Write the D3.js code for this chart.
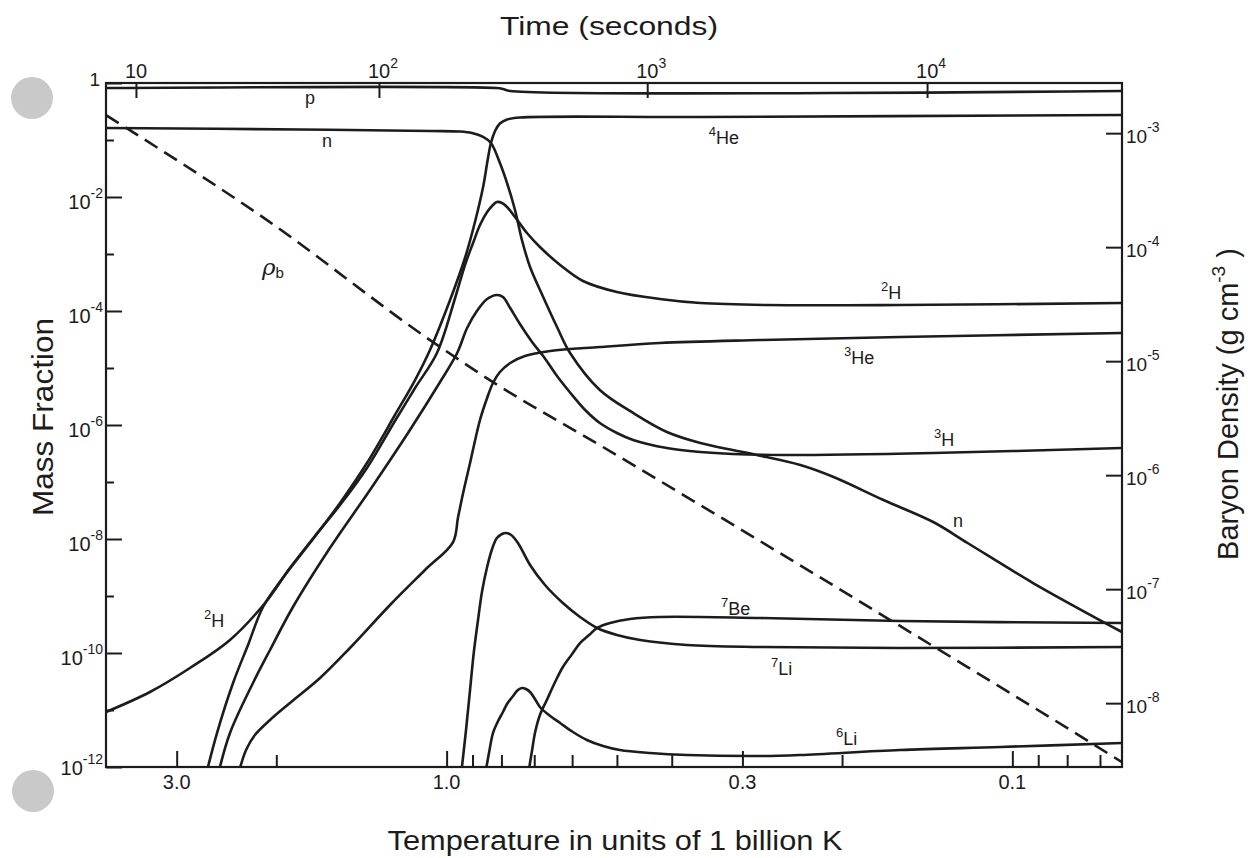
<!DOCTYPE html>
<html><head><meta charset="utf-8">
<script src="https://cdn.jsdelivr.net/npm/d3@7"></script>
<style>
body{margin:0;background:#fff}
svg{display:block}
text{font-family:"Liberation Sans",Arial,Helvetica,sans-serif;fill:#1c1c1c}
</style>
</head><body>
<svg id="chart" width="1248" height="858"></svg>
<script>
// ---------- DATA (temperature in 10^9 K, log10 of mass fraction) ----------
const proton   = [[4.0,-0.088],[0.815,-0.088],[0.795,-0.105],[0.772,-0.140],[0.064,-0.140]];
const neutron  = [[4.0,-0.789],[1.816,-0.816],[1.07,-0.842],[0.947,-0.851],[0.902,-0.877],[0.862,-0.947],[0.835,-1.053],[0.805,-1.404],[0.782,-1.754],[0.757,-2.228],[0.736,-2.754],[0.712,-3.228],[0.675,-3.754],[0.638,-4.281],[0.605,-4.737],[0.536,-5.386],[0.468,-5.789],[0.408,-6.123],[0.356,-6.316],[0.312,-6.439],[0.283,-6.526],[0.237,-6.702],[0.207,-6.912],[0.169,-7.316],[0.138,-7.702],[0.120,-8.070],[0.0919,-8.772],[0.064,-9.632]];
const helium4  = [[2.663,-12.14],[2.546,-11.404],[2.385,-10.526],[2.244,-9.860],[2.111,-9.193],[1.931,-8.632],[1.744,-8.070],[1.543,-7.368],[1.383,-6.667],[1.234,-5.825],[1.137,-5.211],[1.070,-4.684],[0.986,-3.807],[0.928,-3.070],[0.891,-2.439],[0.862,-1.825],[0.845,-1.316],[0.835,-1.053],[0.821,-0.842],[0.805,-0.711],[0.782,-0.640],[0.742,-0.605],[0.356,-0.596],[0.064,-0.561]];
const deuterium= [[4.0,-11.035],[3.345,-10.684],[2.842,-10.263],[2.415,-9.772],[2.094,-9.123],[1.892,-8.509],[1.709,-7.947],[1.543,-7.404],[1.383,-6.754],[1.234,-5.930],[1.137,-5.351],[1.040,-4.737],[0.966,-3.772],[0.928,-3.193],[0.898,-2.807],[0.873,-2.491],[0.848,-2.263],[0.828,-2.140],[0.815,-2.088],[0.798,-2.105],[0.782,-2.175],[0.757,-2.351],[0.721,-2.632],[0.684,-2.877],[0.630,-3.193],[0.574,-3.474],[0.500,-3.667],[0.420,-3.789],[0.356,-3.860],[0.272,-3.895],[0.158,-3.895],[0.064,-3.860]];
const tritium  = [[2.536,-12.14],[2.415,-11.404],[2.199,-10.526],[2.052,-9.947],[1.869,-9.193],[1.608,-8.158],[1.366,-7.140],[1.161,-6.088],[1.027,-5.246],[0.958,-4.737],[0.920,-4.298],[0.884,-4.0],[0.848,-3.789],[0.815,-3.719],[0.795,-3.754],[0.772,-3.947],[0.742,-4.228],[0.704,-4.561],[0.675,-4.789],[0.638,-5.140],[0.605,-5.430],[0.569,-5.737],[0.536,-5.965],[0.500,-6.140],[0.468,-6.263],[0.408,-6.404],[0.356,-6.474],[0.312,-6.509],[0.254,-6.526],[0.138,-6.491],[0.064,-6.404]];
const helium3  = [[2.337,-12.14],[2.262,-11.702],[2.182,-11.439],[2.052,-11.175],[1.892,-10.877],[1.674,-10.439],[1.482,-9.912],[1.259,-9.158],[1.092,-8.544],[0.974,-8.053],[0.955,-7.632],[0.935,-7.193],[0.909,-6.667],[0.873,-5.912],[0.848,-5.526],[0.828,-5.263],[0.805,-5.070],[0.772,-4.912],[0.727,-4.789],[0.656,-4.702],[0.536,-4.632],[0.420,-4.561],[0.279,-4.509],[0.158,-4.456],[0.064,-4.386]];
const lithium7 = [[0.943,-12.14],[0.924,-11.351],[0.909,-10.649],[0.895,-9.982],[0.880,-9.421],[0.866,-8.930],[0.848,-8.491],[0.831,-8.175],[0.815,-7.982],[0.798,-7.912],[0.785,-7.895],[0.769,-7.930],[0.748,-8.070],[0.712,-8.456],[0.670,-8.807],[0.623,-9.123],[0.581,-9.368],[0.542,-9.561],[0.500,-9.684],[0.455,-9.772],[0.376,-9.860],[0.279,-9.895],[0.158,-9.912],[0.064,-9.895]];
const beryllium7=[[0.718,-12.14],[0.706,-11.702],[0.698,-11.404],[0.684,-11.088],[0.665,-10.825],[0.643,-10.509],[0.623,-10.246],[0.600,-10.018],[0.581,-9.825],[0.560,-9.684],[0.542,-9.561],[0.514,-9.474],[0.474,-9.404],[0.420,-9.368],[0.279,-9.386],[0.158,-9.439],[0.064,-9.474]];
const lithium6 = [[0.855,-12.14],[0.841,-11.737],[0.828,-11.404],[0.811,-11.193],[0.795,-11.035],[0.782,-10.895],[0.763,-10.754],[0.748,-10.649],[0.736,-10.614],[0.724,-10.632],[0.712,-10.684],[0.698,-10.807],[0.684,-10.947],[0.656,-11.105],[0.630,-11.228],[0.598,-11.386],[0.565,-11.526],[0.529,-11.632],[0.494,-11.702],[0.437,-11.754],[0.376,-11.789],[0.279,-11.807],[0.237,-11.789],[0.158,-11.702],[0.105,-11.649],[0.064,-11.579]];
// baryon density: temperature, log10 rho (g cm^-3)
const baryonDensity = [[4.0,-2.842],[2.077,-3.763],[1.057,-4.833],[0.828,-5.184],[0.536,-5.737],[0.120,-7.684],[0.0729,-8.342],[0.064,-8.518]];

// axis ticks
const massMajorExp = [0,-2,-4,-6,-8,-10,-12];
const massMinorExp = [-1,-3,-5,-7,-9,-11];
const rhoTickExp   = [-3,-4,-5,-6,-7,-8];
const tempLabelled = [3.0,1.0,0.3,0.1];
const tempLabels   = ["3.0","1.0","0.3","0.1"];
const tempMinor    = [2.0,0.9,0.8,0.7,0.6,0.5,0.4,0.2,0.09,0.08,0.07];
const timeTickExp  = [1,2,3,4];
const timeTickTemp = [3.541,1.317,0.442,0.1415];

// curve labels: [superscript, text, T, log10 X]
const curveLabels = [
  ["","p",1.779,-0.368],
  ["","n",1.661,-1.123],
  ["4","He",0.344,-1.070],
  ["2","H",0.1706,-3.789],
  ["3","He",0.1984,-4.930],
  ["3","H",0.1376,-6.368],
  ["","n",0.1273,-7.789],
  ["7","Be",0.3273,-9.333],
  ["7","Li",0.267,-10.386],
  ["6","Li",0.205,-11.614],
  ["2","H",2.685,-9.544]
];
const rhoLabel = ["ρ","b",2.120,-3.368];

// ---------- CHART ----------
const W = 1248, H = 858;
const L = 106, R = 1122, T = 83, B = 767;
const ink = "#1c1c1c";
const svg = d3.select("#chart");
svg.append("rect").attr("width",W).attr("height",H).attr("fill","#fff");

// hole punches of the scanned page
svg.append("circle").attr("cx",32).attr("cy",98).attr("r",21).attr("fill","#c9c9c9");
svg.append("circle").attr("cx",33).attr("cy",791).attr("r",21).attr("fill","#c9c9c9");

const x  = d3.scaleLog().domain([4.0,0.064]).range([L,R]);
const y  = d3.scaleLog().domain([1,1e-12]).range([T,B]);
const yR = d3.scaleLog().domain([Math.pow(10,-2.56),Math.pow(10,-8.56)]).range([T,B]);

svg.append("clipPath").attr("id","plot").append("rect")
  .attr("x",L).attr("y",T).attr("width",R-L).attr("height",B-T);

// axes ticks
function styleAxis(g){
  g.select(".domain").remove();
  g.selectAll(".tick line").attr("stroke",ink).attr("stroke-width",2);
  g.selectAll(".tick text").remove();
}
svg.append("g").attr("transform",`translate(${L},0)`)
  .call(d3.axisLeft(y).tickValues(massMajorExp.map(e=>Math.pow(10,e))).tickSize(-16).tickFormat("")).call(styleAxis);
svg.append("g").attr("transform",`translate(${L},0)`)
  .call(d3.axisLeft(y).tickValues(massMinorExp.map(e=>Math.pow(10,e))).tickSize(-8).tickFormat("")).call(styleAxis);
svg.append("g").attr("transform",`translate(${R},0)`)
  .call(d3.axisRight(yR).tickValues(rhoTickExp.map(e=>Math.pow(10,e))).tickSize(-16).tickFormat("")).call(styleAxis);
svg.append("g").attr("transform",`translate(0,${B})`)
  .call(d3.axisBottom(x).tickValues(tempLabelled).tickSize(-16).tickFormat("")).call(styleAxis);
svg.append("g").attr("transform",`translate(0,${B})`)
  .call(d3.axisBottom(x).tickValues(tempMinor).tickSize(-12).tickFormat("")).call(styleAxis);
svg.append("g").attr("transform",`translate(0,${T})`)
  .call(d3.axisTop(x).tickValues(timeTickTemp).tickSize(-15).tickFormat("")).call(styleAxis);

// frame
svg.append("rect").attr("x",L).attr("y",T).attr("width",R-L).attr("height",B-T)
  .attr("fill","none").attr("stroke",ink).attr("stroke-width",2.2);

// tick labels
const lab = svg.append("g");
massMajorExp.forEach(e=>{
  const yy = y(Math.pow(10,e));
  if(e===0){
    lab.append("text").attr("x",L-6).attr("y",yy+3).attr("text-anchor","end").attr("font-size",19).text("1");
  } else {
    const t = lab.append("text").attr("x",L-3).attr("y",yy+(e===-12?8:12)).attr("text-anchor","end").attr("font-size",20);
    t.append("tspan").text("10");
    t.append("tspan").attr("font-size",14).attr("dy",-11).text(String(e));
  }
});
rhoTickExp.forEach(e=>{
  const yy = yR(Math.pow(10,e));
  const t = lab.append("text").attr("x",R+4).attr("y",yy+10).attr("font-size",19);
  t.append("tspan").text("10");
  t.append("tspan").attr("font-size",14).attr("dy",-11).text(String(e));
});
tempLabelled.forEach((v,i)=>{
  lab.append("text").attr("x",x(v)).attr("y",B+22).attr("text-anchor","middle").attr("font-size",20).text(tempLabels[i]);
});
timeTickTemp.forEach((v,i)=>{
  const t = lab.append("text").attr("x",x(v)-11).attr("y",T-5).attr("font-size",20);
  t.append("tspan").text("10");
  if(timeTickExp[i]!==1) t.append("tspan").attr("font-size",14).attr("dy",-10).text(String(timeTickExp[i]));
});

// axis titles
svg.append("text").attr("x",609).attr("y",35).attr("text-anchor","middle").attr("font-size",26)
  .attr("textLength",218).attr("lengthAdjust","spacingAndGlyphs").text("Time (seconds)");
svg.append("text").attr("x",615).attr("y",850).attr("text-anchor","middle").attr("font-size",27)
  .attr("textLength",455).attr("lengthAdjust","spacingAndGlyphs").text("Temperature  in units of 1 billion K");
svg.append("text").attr("transform","translate(53,417) rotate(-90)").attr("text-anchor","middle").attr("font-size",29)
  .attr("textLength",198).attr("lengthAdjust","spacingAndGlyphs").text("Mass Fraction");
const bd = svg.append("text").attr("transform","translate(1238,404) rotate(-90)").attr("text-anchor","middle").attr("font-size",29);
bd.append("tspan").text("Baryon Density (g cm");
bd.append("tspan").attr("font-size",19).attr("dy",-13).text("-3");
bd.append("tspan").attr("dy",13).text(" )");

// curves
const line = d3.line()
  .x(d=>x(d[0]))
  .y(d=>y(Math.pow(10,d[1])))
  .curve(d3.curveCatmullRom.alpha(0.5));
const rhoLine = d3.line()
  .x(d=>x(d[0]))
  .y(d=>yR(Math.pow(10,d[1])))
  .curve(d3.curveMonotoneX);

const curves = [proton,neutron,helium4,deuterium,tritium,helium3,lithium7,beryllium7,lithium6];
const cg = svg.append("g").attr("clip-path","url(#plot)");
cg.selectAll("path.sp").data(curves).enter().append("path")
  .attr("class","sp").attr("d",line)
  .attr("fill","none").attr("stroke",ink).attr("stroke-width",2.6)
  .attr("stroke-linejoin","round").attr("stroke-linecap","round");
cg.append("path").datum(baryonDensity).attr("d",rhoLine)
  .attr("fill","none").attr("stroke",ink).attr("stroke-width",2.6).attr("stroke-dasharray","15,8");

// curve labels
curveLabels.forEach(([sup,txt,tv,lx])=>{
  const t = svg.append("text").attr("x",x(tv)).attr("y",y(Math.pow(10,lx))).attr("font-size",18);
  if(sup){
    t.append("tspan").attr("font-size",13).attr("dy",-8).text(sup);
    t.append("tspan").attr("dy",8).text(txt);
  } else t.text(txt);
});
{
  const [r,b,tv,lx] = rhoLabel;
  const t = svg.append("text").attr("x",x(tv)).attr("y",y(Math.pow(10,lx))).attr("font-size",23);
  t.append("tspan").attr("font-style","italic").attr("font-family","'DejaVu Serif',serif").text(r);
  t.append("tspan").attr("font-size",15).attr("dy",3).text(b);
}
</script>
</body></html>
